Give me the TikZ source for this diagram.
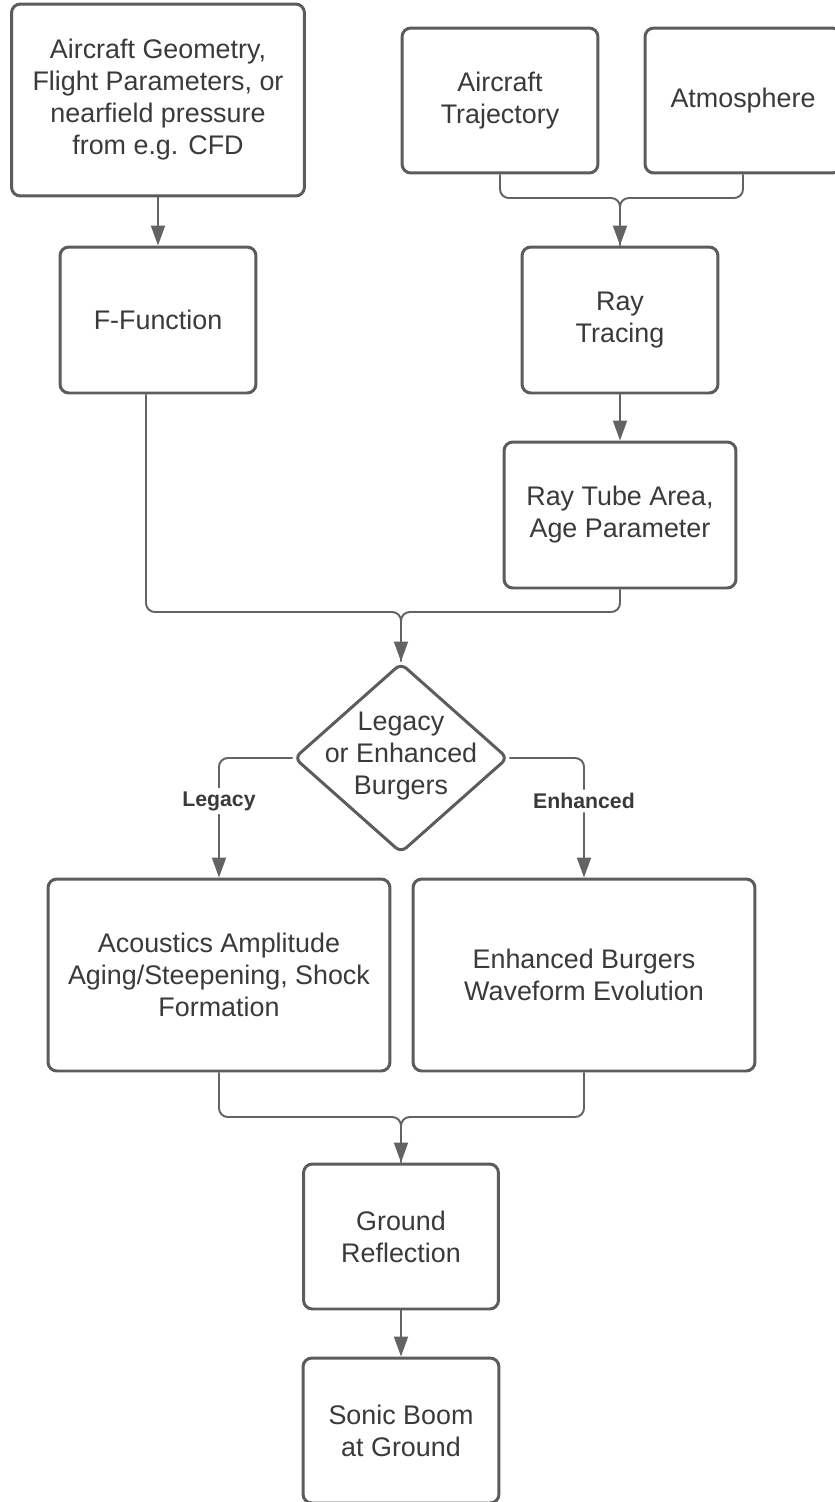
\documentclass[tikz,border=0pt]{standalone}
\usepackage{fontspec}
\setmainfont{Liberation Sans}
\usetikzlibrary{arrows.meta, shapes.geometric}

\definecolor{boxline}{HTML}{5C5C5C}
\definecolor{wireline}{HTML}{636363}
\definecolor{textgray}{HTML}{3A3A3A}

\tikzset{
  stepbox/.style={draw=boxline, line width=1.7pt, rounded corners=5pt, fill=white,
    align=center, text=textgray, inner sep=2pt},
  decide/.style={draw=boxline, line width=1.7pt, diamond, rounded corners=4pt,
    minimum width=4.28cm, minimum height=3.8cm, inner sep=0pt},
  wire/.style={draw=wireline, line width=1.1pt, rounded corners=5pt},
  arr/.style={wire, -{Triangle[length=0.4cm,width=0.28cm]}},
  branch/.style={fill=white, text=textgray, font=\fontsize{12.1pt}{14pt}\selectfont\bfseries,
    inner sep=2pt}
}

\begin{document}
\begin{tikzpicture}[x=0.02cm, y=-0.02cm,
  every node/.style={font=\fontsize{15.3pt}{18.2pt}\selectfont}]

  \useasboundingbox (0,0) rectangle (835,1502);

  % inputs
  \node[stepbox, minimum width=5.86cm, minimum height=3.84cm] (geom) at (158,100)
    {Aircraft Geometry,\\Flight Parameters, or\\nearfield pressure\\from e.g. CFD};
  \node[stepbox, minimum width=3.92cm, minimum height=2.9cm] (traj) at (500,100.5)
    {Aircraft\\Trajectory};
  \node[stepbox, minimum width=3.92cm, minimum height=2.9cm] (atmo) at (743,100.5)
    {Atmosphere};

  % second row
  \node[stepbox, minimum width=3.92cm, minimum height=2.92cm] (ffun) at (158,320)
    {F-Function};
  \node[stepbox, minimum width=3.92cm, minimum height=2.92cm] (raytr) at (620,320)
    {Ray\\Tracing};
  \node[stepbox, minimum width=4.64cm, minimum height=2.92cm] (tube) at (620,515)
    {Ray Tube Area,\\Age Parameter};

  % decision
  \node[decide, label={[text=textgray, align=center, yshift=0.04cm]center:{Legacy\\or Enhanced\\Burgers}}]
    (dec) at (401,758) {};

  % propagation
  \node[stepbox, minimum width=6.84cm, minimum height=3.84cm] (acou) at (219,975)
    {Acoustics Amplitude\\Aging/Steepening, Shock\\Formation};
  \node[stepbox, minimum width=6.84cm, minimum height=3.84cm] (enh) at (584,975)
    {Enhanced Burgers\\Waveform Evolution};

  % ground
  \node[stepbox, minimum width=3.9cm, minimum height=2.9cm] (grnd) at (401,1236.5)
    {Ground\\Reflection};
  \node[stepbox, minimum width=3.92cm, minimum height=2.9cm] (boom) at (401,1430.5)
    {Sonic Boom\\at Ground};

  % joins
  \coordinate (j1) at (620,198);
  \coordinate (j2) at (401,612);
  \coordinate (j3) at (401,1117);

  % connectors
  \draw[arr] (geom.south) -- (ffun.north);
  \draw[wire] (traj.south) |- (j1) -- (raytr.north);
  \draw[arr] (atmo.south) |- (j1) -- (raytr.north);
  \draw[arr] (raytr.south) -- (tube.north);
  \draw[wire] ([xshift=-0.24cm]ffun.south) |- (j2) -- (dec.north);
  \draw[arr] (tube.south) |- (j2) -- (dec.north);
  \draw[arr] (dec.west) -| node[branch, pos=0.68] {Legacy} (acou.north);
  \draw[arr] (dec.east) -| node[branch, pos=0.68] {Enhanced} (enh.north);
  \draw[wire] (acou.south) |- (j3) -- (grnd.north);
  \draw[arr] (enh.south) |- (j3) -- (grnd.north);
  \draw[arr] (grnd.south) -- (boom.north);

\end{tikzpicture}
\end{document}
